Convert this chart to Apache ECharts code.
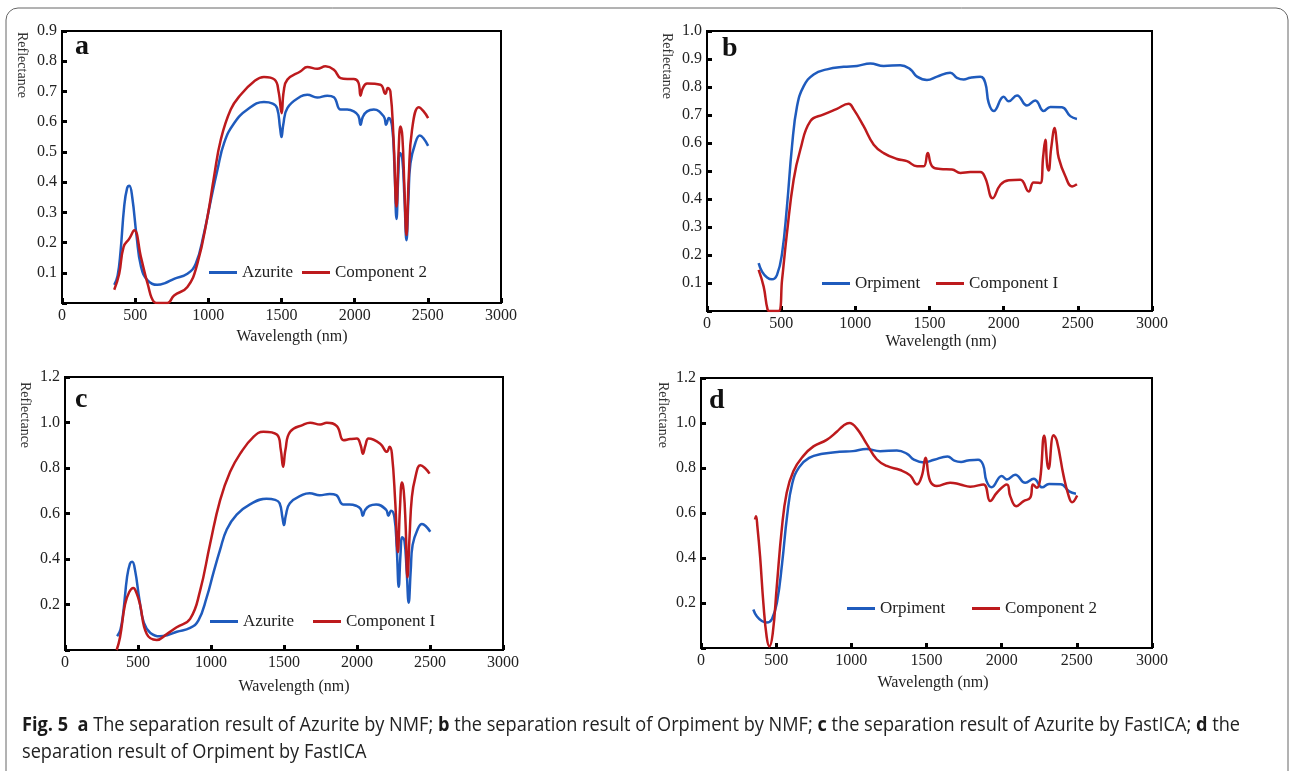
<!DOCTYPE html>
<html>
<head>
<meta charset="utf-8">
<script src="https://cdn.jsdelivr.net/npm/echarts@6/dist/echarts.min.js"></script>
<style>
  html, body { margin: 0; padding: 0; background: #fff; }
  #main { width: 1290px; height: 771px; }
</style>
</head>
<body>
<div id="main"></div>
<script>
// x ticks
var xTicks = [0, 500, 1000, 1500, 2000, 2500, 3000];

// Azurite reference spectrum (panels a and c)
var azuriteWl = [357, 380, 400, 425, 445, 460, 480, 510, 540, 585, 650, 700, 766, 857, 914, 970, 1017, 1062, 1108, 1176, 1267, 1380, 1440, 1470, 1490, 1500, 1512, 1540, 1630, 1676, 1744, 1813, 1858, 1904, 1949, 1994, 2025, 2040, 2055, 2085, 2131, 2199, 2215, 2233, 2256, 2272, 2286, 2298, 2310, 2325, 2340, 2354, 2368, 2381, 2415, 2445, 2470, 2502];
var azuriteR = [0.06, 0.09, 0.17, 0.32, 0.38, 0.388, 0.35, 0.22, 0.12, 0.075, 0.06, 0.065, 0.08, 0.097, 0.13, 0.23, 0.34, 0.44, 0.53, 0.595, 0.64, 0.665, 0.66, 0.645, 0.58, 0.549, 0.59, 0.645, 0.683, 0.689, 0.68, 0.686, 0.681, 0.64, 0.64, 0.634, 0.62, 0.59, 0.615, 0.634, 0.64, 0.617, 0.59, 0.612, 0.584, 0.45, 0.278, 0.42, 0.496, 0.48, 0.35, 0.208, 0.35, 0.462, 0.53, 0.554, 0.545, 0.52];

// Component 2 by NMF (panel a)
var nmfComp2Wl = [357, 391, 421, 460, 494, 539, 585, 630, 660, 720, 766, 857, 925, 994, 1039, 1085, 1153, 1221, 1312, 1380, 1453, 1480, 1501, 1515, 1540, 1631, 1676, 1744, 1801, 1858, 1904, 1949, 1994, 2025, 2040, 2055, 2085, 2176, 2210, 2226, 2244, 2265, 2286, 2300, 2313, 2326, 2340, 2354, 2370, 2392, 2438, 2470, 2502];
var nmfComp2R = [0.044, 0.097, 0.186, 0.213, 0.241, 0.153, 0.064, 0.003, 0, 0, 0.025, 0.053, 0.13, 0.285, 0.418, 0.54, 0.64, 0.689, 0.733, 0.748, 0.739, 0.7, 0.628, 0.7, 0.739, 0.767, 0.781, 0.775, 0.783, 0.772, 0.744, 0.741, 0.741, 0.73, 0.686, 0.71, 0.726, 0.722, 0.692, 0.711, 0.7, 0.55, 0.319, 0.5, 0.584, 0.55, 0.38, 0.225, 0.42, 0.573, 0.648, 0.635, 0.612];

// Orpiment reference spectrum (panels b and d)
var orpimentWl = [348, 371, 405, 438, 472, 506, 539, 573, 607, 652, 719, 809, 921, 1011, 1101, 1191, 1303, 1371, 1416, 1483, 1551, 1640, 1685, 1730, 1775, 1843, 1876, 1899, 1933, 2000, 2034, 2090, 2157, 2213, 2270, 2315, 2393, 2449, 2494];
var orpimentR = [0.171, 0.141, 0.12, 0.113, 0.129, 0.206, 0.373, 0.588, 0.731, 0.803, 0.845, 0.863, 0.872, 0.875, 0.884, 0.875, 0.878, 0.863, 0.837, 0.825, 0.837, 0.851, 0.833, 0.827, 0.833, 0.837, 0.815, 0.743, 0.714, 0.765, 0.749, 0.77, 0.734, 0.752, 0.714, 0.729, 0.728, 0.696, 0.686];

// Component I by NMF (panel b)
var nmfComp1Wl = [348, 382, 409, 425, 483, 506, 539, 584, 629, 697, 787, 876, 955, 989, 1056, 1124, 1191, 1281, 1348, 1416, 1461, 1488, 1517, 1573, 1652, 1708, 1775, 1843, 1876, 1926, 1978, 2034, 2112, 2169, 2202, 2247, 2266, 2281, 2293, 2303, 2320, 2344, 2358, 2371, 2416, 2461, 2494];
var nmfComp1R = [0.147, 0.087, 0.004, 0, 0, 0.111, 0.278, 0.469, 0.576, 0.678, 0.702, 0.722, 0.74, 0.72, 0.66, 0.594, 0.564, 0.543, 0.535, 0.517, 0.517, 0.564, 0.517, 0.507, 0.505, 0.493, 0.496, 0.496, 0.475, 0.403, 0.451, 0.467, 0.469, 0.427, 0.459, 0.457, 0.55, 0.612, 0.52, 0.502, 0.58, 0.654, 0.6, 0.547, 0.481, 0.445, 0.453];

// Component I by FastICA (panel c)
var icaComp1Wl = [354, 377, 411, 440, 468, 490, 514, 560, 628, 697, 765, 857, 925, 994, 1062, 1131, 1200, 1291, 1359, 1451, 1478, 1494, 1510, 1542, 1634, 1679, 1748, 1793, 1862, 1908, 1953, 1999, 2025, 2040, 2058, 2079, 2159, 2205, 2223, 2239, 2262, 2280, 2294, 2308, 2320, 2333, 2346, 2360, 2376, 2400, 2433, 2465, 2497];
var icaComp1R = [0.0, 0.056, 0.2, 0.255, 0.273, 0.25, 0.2, 0.07, 0.044, 0.07, 0.1, 0.137, 0.26, 0.467, 0.658, 0.783, 0.863, 0.937, 0.959, 0.947, 0.88, 0.805, 0.88, 0.959, 0.991, 0.999, 0.991, 0.999, 0.984, 0.922, 0.927, 0.93, 0.9, 0.863, 0.9, 0.93, 0.907, 0.871, 0.893, 0.863, 0.65, 0.43, 0.62, 0.736, 0.7, 0.55, 0.32, 0.5, 0.673, 0.76, 0.812, 0.8, 0.775];

// Component 2 by FastICA (panel d)
var icaComp2Wl = [359, 366, 375, 393, 415, 437, 455, 477, 504, 537, 570, 615, 681, 748, 836, 903, 947, 987, 1036, 1103, 1169, 1236, 1325, 1391, 1436, 1469, 1494, 1524, 1569, 1657, 1724, 1791, 1879, 1924, 1968, 2035, 2057, 2097, 2146, 2190, 2208, 2234, 2256, 2283, 2312, 2345, 2367, 2412, 2446, 2468, 2502];
var icaComp2R = [0.571, 0.586, 0.541, 0.407, 0.198, 0.049, 0.007, 0.064, 0.273, 0.526, 0.69, 0.787, 0.854, 0.896, 0.925, 0.961, 0.988, 1.0, 0.976, 0.906, 0.839, 0.809, 0.791, 0.767, 0.727, 0.765, 0.846, 0.742, 0.72, 0.735, 0.727, 0.717, 0.727, 0.653, 0.69, 0.727, 0.675, 0.63, 0.653, 0.668, 0.727, 0.712, 0.75, 0.943, 0.797, 0.946, 0.921, 0.765, 0.675, 0.648, 0.678];

var BLUE = '#1f5bbd';
var RED = '#bd1a1d';
var SERIF = '"Liberation Serif", "DejaVu Serif", serif';

function pairs(xs, ys) {
    return xs.map(function (x, i) { return [x, ys[i]]; });
}

var panels = [
    { letter: 'a', grid: { left: 62, top: 31, width: 439, height: 272 }, yMax: 0.9, yStep: 0.1,
      blue: ['Azurite', azuriteWl, azuriteR], red: ['Component 2', nmfComp2Wl, nmfComp2R],
      legend: [209, 302, 273], letterPos: [75, 33], refl: [22, 32], xname: [292, 337] },
    { letter: 'b', grid: { left: 707, top: 31, width: 445, height: 280 }, yMax: 1.0, yStep: 0.1,
      blue: ['Orpiment', orpimentWl, orpimentR], red: ['Component I', nmfComp1Wl, nmfComp1R],
      legend: [822, 936, 284], letterPos: [722, 35], refl: [667, 33], xname: [941, 342] },
    { letter: 'c', grid: { left: 65, top: 377, width: 438, height: 273 }, yMax: 1.2, yStep: 0.2,
      blue: ['Azurite', azuriteWl, azuriteR], red: ['Component I', icaComp1Wl, icaComp1R],
      legend: [210, 313, 622], letterPos: [75, 386], refl: [25, 382], xname: [294, 687] },
    { letter: 'd', grid: { left: 701, top: 378, width: 451, height: 270 }, yMax: 1.2, yStep: 0.2,
      blue: ['Orpiment', orpimentWl, orpimentR], red: ['Component 2', icaComp2Wl, icaComp2R],
      legend: [847, 972, 609], letterPos: [709, 387], refl: [663, 382], xname: [933, 683] }
];

var option = {
    backgroundColor: '#fff',
    animation: false,
    grid: [], xAxis: [], yAxis: [], series: [], legend: [], graphic: []
};

panels.forEach(function (p, i) {
    option.grid.push(Object.assign({ show: true, borderColor: '#000', borderWidth: 2, backgroundColor: '#fff' }, p.grid));
    option.xAxis.push({
        type: 'value', gridIndex: i, min: xTicks[0], max: xTicks[xTicks.length - 1], interval: 500,
        axisLine: { show: false },
        axisTick: { show: true, inside: true, length: 5, lineStyle: { color: '#000', width: 3 } },
        splitLine: { show: false },
        axisLabel: { color: '#222', fontFamily: SERIF, fontSize: 16, margin: 5,
            formatter: function (v) { return String(v); } }
    });
    option.yAxis.push({
        type: 'value', gridIndex: i, min: 0, max: p.yMax, interval: p.yStep,
        axisLine: { show: false },
        axisTick: { show: true, inside: true, length: 5, lineStyle: { color: '#000', width: 3 } },
        splitLine: { show: false },
        axisLabel: { color: '#222', fontFamily: SERIF, fontSize: 16, margin: 5,
            formatter: function (v) { return v === 0 ? '' : v.toFixed(1); } }
    });
    [['blue', BLUE], ['red', RED]].forEach(function (s) {
        var d = p[s[0]];
        option.series.push({
            type: 'line', name: d[0], xAxisIndex: i, yAxisIndex: i,
            data: pairs(d[1], d[2]), showSymbol: false, smooth: 0.45,
            lineStyle: { color: s[1], width: 2.5 }, itemStyle: { color: s[1] }
        });
    });
    [[p.blue[0], p.legend[0]], [p.red[0], p.legend[1]]].forEach(function (l) {
        option.legend.push({
            data: [l[0]], left: l[1], top: p.legend[2] - 9, padding: 0,
            icon: 'rect', itemWidth: 28, itemHeight: 3, itemGap: 5,
            textStyle: { color: '#222', fontFamily: SERIF, fontSize: 17 },
            selectedMode: false
        });
    });
    option.graphic.push({
        type: 'text', x: p.letterPos[0], y: p.letterPos[1],
        style: { text: p.letter, fill: '#111', font: 'bold 28px ' + SERIF }
    });
    option.graphic.push({
        type: 'text', x: p.refl[0], y: p.refl[1], rotation: -Math.PI / 2,
        style: { text: 'Reflectance', fill: '#333', font: '14px ' + SERIF, align: 'left', verticalAlign: 'middle' }
    });
    option.graphic.push({
        type: 'text', x: p.xname[0], y: p.xname[1],
        style: { text: 'Wavelength (nm)', fill: '#222', font: '16px ' + SERIF, align: 'center', verticalAlign: 'middle' }
    });
});

// outer rounded frame
option.graphic.push({
    type: 'rect', shape: { x: 6, y: 8, width: 1282, height: 820, r: 12 },
    style: { fill: 'none', stroke: '#666', lineWidth: 1 }, z: -1
});

// caption, squeezed horizontally like the condensed journal font
var capFont = '"Open Sans", sans-serif';
var line1 = [['b', 'Fig. 5'], ['n', '  '], ['b', 'a'], ['n', ' The separation result of Azurite by NMF; '], ['b', 'b'],
    ['n', ' the separation result of Orpiment by NMF; '], ['b', 'c'], ['n', ' the separation result of Azurite by FastICA; '],
    ['b', 'd'], ['n', ' the']];
var ctx = document.createElement('canvas').getContext('2d');
var w1 = 0;
line1.forEach(function (s) {
    ctx.font = (s[0] === 'b' ? 'bold ' : '') + '20px ' + capFont;
    w1 += ctx.measureText(s[1]).width;
});
var sx = 1218 / w1;
option.graphic.push({
    type: 'text', x: 22, y: 725, scaleX: sx,
    style: {
        text: line1.map(function (s) { return '{' + s[0] + '|' + s[1] + '}'; }).join(''),
        verticalAlign: 'middle',
        rich: {
            b: { font: 'bold 20px ' + capFont, fill: '#1a1a1a' },
            n: { font: '20px ' + capFont, fill: '#222' }
        }
    }
});
option.graphic.push({
    type: 'text', x: 22, y: 752, scaleX: sx,
    style: { text: 'separation result of Orpiment by FastICA', font: '20px ' + capFont, fill: '#222', verticalAlign: 'middle' }
});

var myChart = echarts.init(document.getElementById('main'));
myChart.setOption(option);
</script>
</body>
</html>
